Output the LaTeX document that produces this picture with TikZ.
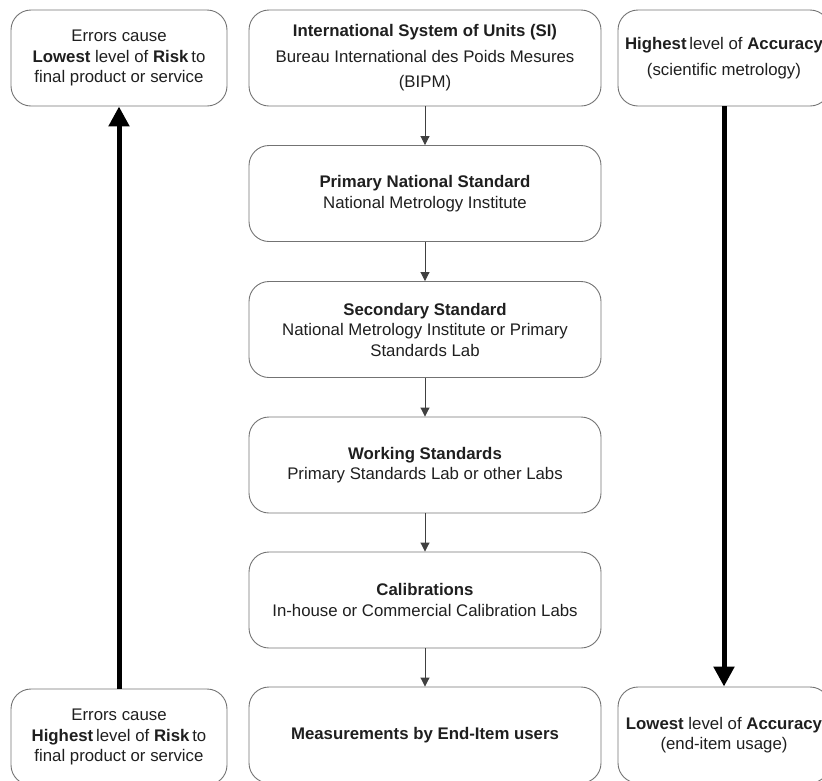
\documentclass[tikz,border=0pt]{standalone}
\usepackage{fontspec}
\setmainfont{Liberation Sans}
\usetikzlibrary{arrows.meta}

\tikzset{
  levelbox/.style={draw=black!55, line width=0.9pt, rounded corners=20pt, align=center,
    text=black!88, font=\fontsize{16.8}{20.5}\selectfont, inner sep=0pt, minimum height=96pt},
  chainbox/.style={levelbox, minimum width=352pt},
  sidebox/.style={levelbox, minimum width=216pt},
  chainarrow/.style={draw=black!75, line width=0.9pt, -{Triangle[length=9pt,width=9pt]}},
  trendarrow/.style={draw=black, line width=5pt, -{Triangle[length=20pt,width=20pt]}},
}

\begin{document}
\begin{tikzpicture}[x=1pt,y=-1pt]
\useasboundingbox (0,0) rectangle (822,780);

% traceability chain
\node[chainbox] (si) at (425,58) {\textbf{International System of Units (SI)}\\[5pt]
  Bureau International des Poids Mesures\\[5pt] (BIPM)};
\node[chainbox] (primary) at (425,193.5) {\textbf{Primary National Standard}\\ National Metrology Institute};
\node[chainbox] (secondary) at (425,329.5) {\textbf{Secondary Standard}\\ National Metrology Institute or Primary\\ Standards Lab};
\node[chainbox] (working) at (425,465) {\textbf{Working Standards}\\ Primary Standards Lab or other Labs};
\node[chainbox] (calib) at (425,600) {\textbf{Calibrations}\\ In-house or Commercial Calibration Labs};
\node[chainbox] (enduser) at (425,735) {\textbf{Measurements by End-Item users}};

% risk and accuracy
\node[sidebox] (risklow) at (119,58) {Errors cause\\ \textbf{Lowest} level of \textbf{Risk}\,to\\ final product or service};
\node[sidebox] (riskhigh) at (119,737) {Errors cause\\ \textbf{Highest}\,level of \textbf{Risk}\,to\\ final product or service};
\node[sidebox, minimum width=212pt] (acchigh) at (724,58) {\textbf{Highest}\,level of \textbf{Accuracy}\\[5pt] (scientific metrology)};
\node[sidebox, minimum width=212pt] (acclow) at (724,735) {\textbf{Lowest} level of \textbf{Accuracy}\\ (end-item usage)};

\path[every edge/.style={chainarrow}]
(si) edge (primary)
(primary) edge (secondary)
(secondary) edge (working)
(working) edge (calib)
(calib) edge (enduser);

\draw[trendarrow] (riskhigh) -- (risklow);
\draw[trendarrow] (acchigh) -- (acclow);
\end{tikzpicture}
\end{document}
